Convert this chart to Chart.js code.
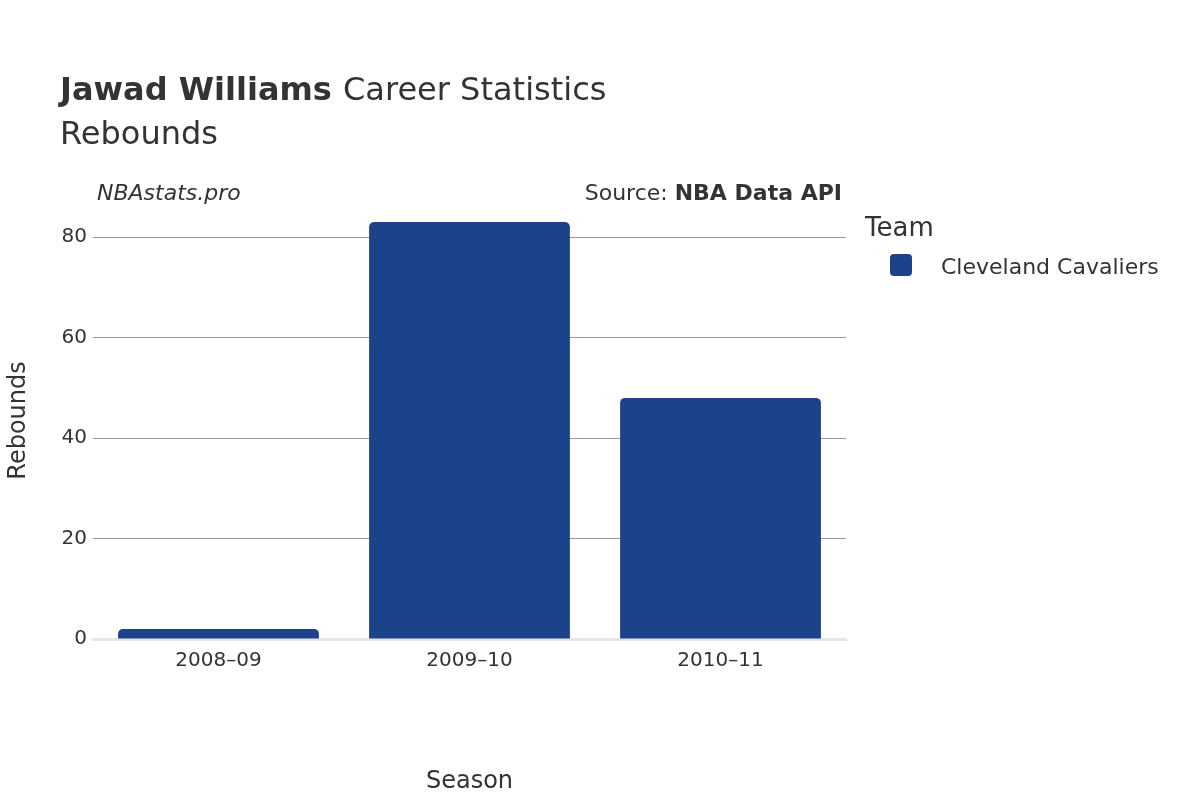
<!DOCTYPE html>
<html><head><meta charset="utf-8">
<script src="https://cdn.jsdelivr.net/npm/chart.js@4"></script>
<style>html,body{margin:0;padding:0;background:#fff}#w{width:1200px;height:800px}</style>
</head><body><div id="w"><canvas id="c" width="1200" height="800"></canvas></div>
<script>
const seasons = ["2008–09", "2009–10", "2010–11"];
const rebounds = [2, 83, 48];
const yTicks = [0, 20, 40, 60, 80];
const teamName = "Cleveland Cavaliers";
const barColor = "#1c4289";
const F = "'DejaVu Sans', sans-serif";

const textPlugin = {
  id: 'texts',
  afterDraw(chart) {
    const c = chart.ctx;
    c.save();
    c.fillStyle = '#333';
    c.textBaseline = 'alphabetic';
    c.font = `bold 32px ${F}`;
    c.fillText('Jawad Williams', 60, 100);
    const w = c.measureText('Jawad Williams ').width;
    c.font = `32px ${F}`;
    c.fillText('Career Statistics', 60 + w, 100);
    c.fillText('Rebounds', 60, 144);
    c.font = `italic 22px ${F}`;
    c.fillText('NBAstats.pro', 97, 200);
    c.textAlign = 'right';
    c.font = `bold 22px ${F}`;
    c.fillText('NBA Data API', 842, 200);
    const bw = c.measureText('NBA Data API').width;
    c.font = `22px ${F}`;
    c.fillText('Source: ', 842 - bw, 200);
    c.textAlign = 'left';
    c.font = `26px ${F}`;
    c.fillText('Team', 865, 236);
    c.fillStyle = barColor;
    c.beginPath();
    c.roundRect(890, 254, 22, 22, 4);
    c.fill();
    c.fillStyle = '#333';
    c.font = `22px ${F}`;
    c.fillText(teamName, 941, 274);
    c.restore();
  }
};

new Chart(document.getElementById('c'), {
  type: 'bar',
  data: { labels: seasons, datasets: [{ label: teamName, data: rebounds, backgroundColor: barColor, borderRadius: 5, borderSkipped: 'start', barPercentage: 0.8, categoryPercentage: 1 }] },
  options: {
    responsive: false, animation: false,
    layout: { padding: { left: 0, top: 202, right: 354, bottom: 0 } },
    plugins: { legend: { display: false }, tooltip: { enabled: false } },
    scales: {
      x: {
        grid: { display: false }, border: { color: '#e5e5ec', width: 3 },
        ticks: { color: '#333', font: { family: F, size: 20 }, padding: 2 },
        title: { display: true, text: 'Season', color: '#333', font: { family: F, size: 24 }, padding: { top: 24 } },
        afterFit(s) { s.height = 161; }
      },
      y: {
        min: 0, max: 87,
        afterBuildTicks(s) { s.ticks = yTicks.map(v => ({ value: v })); },
        grid: { color: ctx => ctx.tick && ctx.tick.value === 0 ? 'rgba(0,0,0,0)' : '#999', drawTicks: false },
        border: { display: false },
        ticks: { color: '#333', font: { family: F, size: 20 }, padding: 6 },
        title: { display: true, text: 'Rebounds', color: '#333', font: { family: F, size: 24 } },
        afterFit(s) { s.width = 93; }
      }
    }
  },
  plugins: [textPlugin]
});
</script></body></html>
